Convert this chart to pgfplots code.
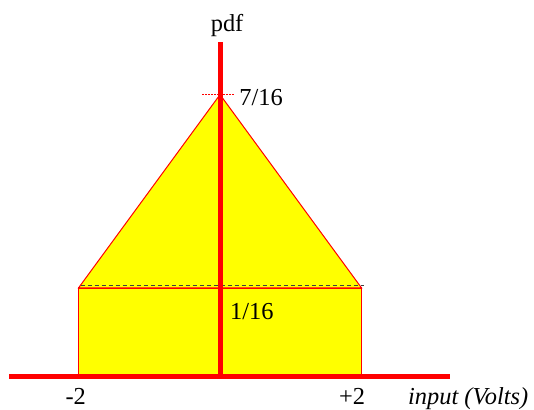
\documentclass[border=0pt]{standalone}
\usepackage{pgfplots}
\pgfplotsset{compat=1.18}
\usepackage{fontspec}
\setmainfont{Liberation Serif}
\definecolor{dashgray}{HTML}{404040}
\definecolor{fillyel}{HTML}{FFFF00}
\definecolor{pure red}{HTML}{FF0000}
\tikzset{lbl/.style={font=\fontsize{24.5}{29}\selectfont, inner sep=0pt}}
\begin{document}
\begin{tikzpicture}
\begin{axis}[
  at={(0,0)}, anchor=south west,
  scale only axis, width=534bp, height=410bp,
  xmin=-3.11, xmax=4.438, ymin=-0.374, ymax=4.207,
  hide axis, clip=false,
]
% rectangle part
\addplot[fill=fillyel, draw=pure red, line width=1.3bp] coordinates {(-2,0) (-2,0.99) (2,0.99) (2,0)} -- cycle;
% triangle part
\addplot[fill=fillyel, draw=pure red, line width=1bp] coordinates {(-2,0.99) (0,3.15) (2,0.99)} -- cycle;
% dashed level line
\addplot[dashgray, line width=1.1bp, dash pattern=on 4.5bp off 2.5bp] coordinates {(-1.97,1.015) (2.03,1.015)};
% dotted peak marker
\addplot[pure red, line width=0.7bp, dash pattern=on 1.5bp off 1.5bp] coordinates {(-0.254,3.153) (0.212,3.153)};
% axes
\addplot[pure red, line width=5bp] coordinates {(-2.98,0) (3.25,0)};
\addplot[pure red, line width=5bp] coordinates {(0,-0.02) (0,3.74)};
% labels
\node[lbl, anchor=base] at (axis cs:0.1,3.86) {pdf};
\node[lbl, anchor=base west] at (axis cs:0.27,3.03) {7/16};
\node[lbl, anchor=base west] at (axis cs:0.14,0.642) {1/16};
\node[lbl, anchor=base] at (axis cs:-2.04,-0.318) {-2};
\node[lbl, anchor=base] at (axis cs:1.866,-0.318) {+2};
\node[lbl, anchor=base west] at (axis cs:2.657,-0.31) {\itshape input (Volts)};
\end{axis}
\pgfresetboundingbox
\path (0,0) rectangle (534bp,410bp);
\end{tikzpicture}
\end{document}
